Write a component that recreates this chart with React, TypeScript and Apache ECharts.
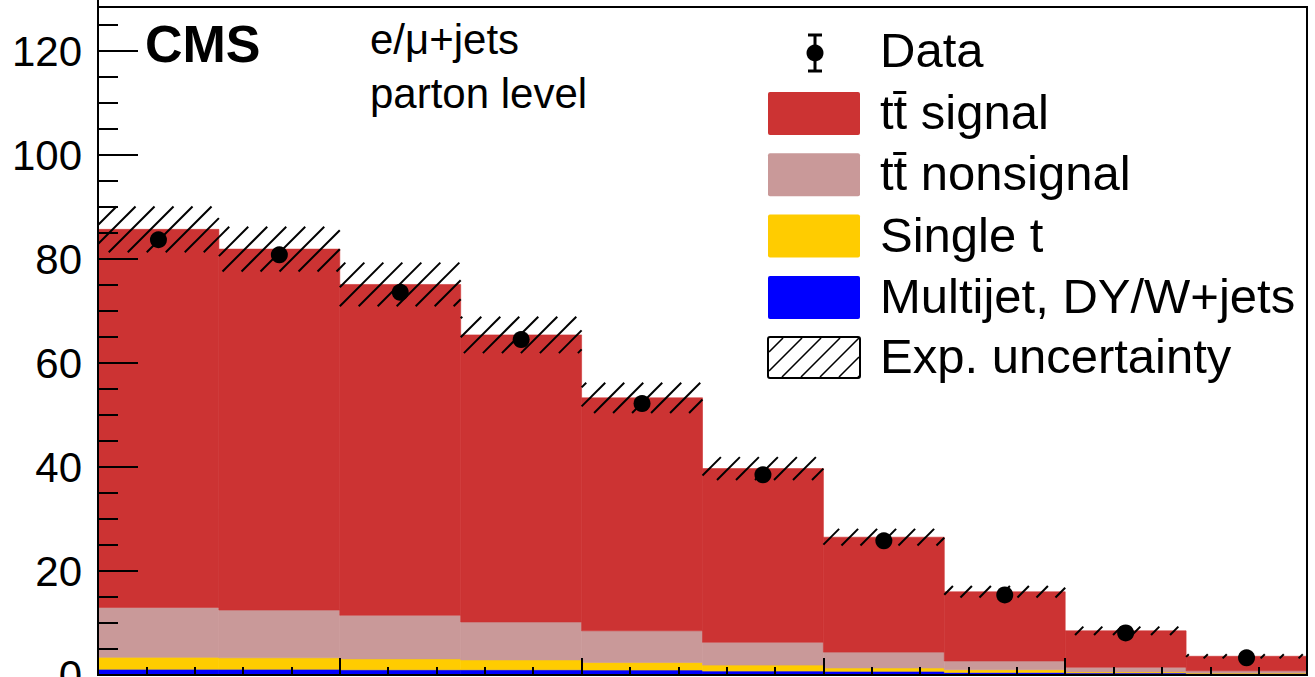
import React, { useEffect, useRef } from "react";
import * as echarts from "echarts";

// ---- data ----
const binEdges = [0, 1, 2, 3, 4, 5, 6, 7, 8, 9, 10];
const multijet = [1.1, 1.1, 1.0, 1.0, 0.95, 0.75, 0.7, 0.5, 0.4, 0.3];
const singleTop = [2.3, 2.2, 2.1, 1.9, 1.45, 1.15, 0.65, 0.5, 0.2, 0.1];
const ttNonsignal = [9.6, 9.2, 8.4, 7.3, 6.1, 4.4, 3.05, 1.7, 0.9, 0.4];
const ttSignal = [72.7, 69.4, 63.6, 55.2, 44.8, 33.4, 22.1, 13.3, 7.0, 2.8];
const expUnc = [4.4, 4.3, 4.2, 3.5, 2.9, 2.2, 1.6, 1.1, 0.8, 0.4];
const dataValues = [83.7, 80.8, 73.6, 64.5, 52.2, 38.5, 25.8, 15.4, 8.1, 3.3];
const yTickLabels = [0, 20, 40, 60, 80, 100, 120];

const FONT = '"Liberation Sans", Arial, Helvetica, sans-serif';

const layers = [
  { name: "Multijet, DY/W+jets", values: multijet, color: "#0000ff" },
  { name: "Single t", values: singleTop, color: "#ffcc00" },
  { name: "tt\u0304 nonsignal", values: ttNonsignal, color: "#c99999" },
  { name: "tt\u0304 signal", values: ttSignal, color: "#cc3333" },
];

function hatchLines(x0: number, x1: number, yTop: number, yBot: number, sp: number, lw: number) {
  const out: any[] = [];
  const cMin = x0 + yTop;
  const cMax = x1 + yBot;
  for (let c = Math.ceil(cMin / sp) * sp; c <= cMax; c += sp) {
    let xa = c - yBot, ya = yBot;
    if (xa < x0) { xa = x0; ya = c - x0; }
    let xb = c - yTop, yb = yTop;
    if (xb > x1) { xb = x1; yb = c - x1; }
    if (xb - xa < 0.5) continue;
    out.push({
      type: "line",
      shape: { x1: xa, y1: ya, x2: xb, y2: yb },
      style: { stroke: "#000", lineWidth: lw },
    });
  }
  return out;
}

export default function App() {
  const ref = useRef<HTMLDivElement>(null);

  useEffect(() => {
    document.body.style.margin = "0";
    const chart = echarts.init(ref.current!, null, { renderer: "svg" });

    const nBins = binEdges.length - 1;
    const base = new Array(nBins).fill(0);
    const stackSeries = layers.map((layer, li) => {
      const data = [] as number[][];
      for (let i = 0; i < nBins; i++) {
        const b = base[i];
        const t = b + layer.values[i];
        data.push([binEdges[i], binEdges[i + 1], b, t]);
        base[i] = t;
      }
      return {
        type: "custom",
        name: layer.name,
        z: 2 + li * 0.01,
        encode: { x: [0, 1], y: [2, 3] },
        data,
        renderItem: (params: any, api: any) => {
          const p0 = api.coord([api.value(0), api.value(3)]);
          const p1 = api.coord([api.value(1), api.value(2)]);
          return {
            type: "rect",
            shape: { x: p0[0], y: p0[1], width: p1[0] - p0[0], height: p1[1] - p0[1] },
            style: { fill: layer.color, stroke: layer.color, lineWidth: 0.6 },
          };
        },
      };
    });

    const totals = base.slice();
    const uncData = totals.map((t, i) => [binEdges[i], binEdges[i + 1], t, expUnc[i]]);
    const pointData = dataValues.map((v, i) => [(binEdges[i] + binEdges[i + 1]) / 2, v]);

    const option: any = {
      animation: false,
      grid: {
        left: 98, right: 8, top: -53, bottom: 2,
        containLabel: false,
        outerBoundsMode: "none",
      },
      xAxis: {
        type: "value",
        min: 0,
        max: 10,
        interval: 2,
        z: 10,
        axisLine: { show: true, lineStyle: { color: "#000", width: 2 } },
        axisTick: { show: true, inside: true, length: 17, lineStyle: { color: "#000", width: 2 } },
        minorTick: { show: true, splitNumber: 5, length: 8, lineStyle: { color: "#000", width: 2 } },
        axisLabel: { show: false },
        splitLine: { show: false },
      },
      yAxis: {
        type: "value",
        min: 0,
        max: 140,
        interval: 20,
        z: 10,
        axisLine: { show: true, lineStyle: { color: "#000", width: 2 } },
        axisTick: { show: true, inside: true, length: 40, lineStyle: { color: "#000", width: 2 } },
        minorTick: { show: true, splitNumber: 4, length: 20, lineStyle: { color: "#000", width: 2 } },
        axisLabel: {
          color: "#000",
          fontSize: 42,
          fontFamily: FONT,
          margin: 16,
          formatter: (v: number) => (yTickLabels.indexOf(v) >= 0 ? String(v) : ""),
        },
        splitLine: { show: false },
      },
      series: [
        ...stackSeries,
        {
          type: "custom",
          name: "Exp. uncertainty",
          z: 3,
          encode: { x: [0, 1], y: 2 },
          data: uncData,
          renderItem: (params: any, api: any) => {
            const x0 = api.coord([api.value(0), 0])[0];
            const x1 = api.coord([api.value(1), 0])[0];
            const yTop = api.coord([0, api.value(2) + api.value(3)])[1];
            const yBot = api.coord([0, api.value(2) - api.value(3)])[1];
            return { type: "group", children: hatchLines(x0, x1, yTop, yBot, 19, 2) };
          },
        },
        {
          type: "scatter",
          name: "Data",
          z: 4,
          symbol: "circle",
          symbolSize: 17,
          itemStyle: { color: "#000", opacity: 1 },
          data: pointData,
        },
      ],
      graphic: [
        {
          type: "rect",
          z: 100,
          shape: { x: 98, y: 7, width: 1209, height: 668 },
          style: { fill: "none", stroke: "#000", lineWidth: 2 },
        },
        {
          type: "text", z: 100, x: 145, y: 44,
          style: { text: "CMS", font: `bold 52px ${FONT}`, fill: "#000", verticalAlign: "middle", align: "left" },
        },
        {
          type: "text", z: 100, x: 370, y: 39,
          style: { text: "e/\u03bc+jets", font: `42px ${FONT}`, fill: "#000", verticalAlign: "middle", align: "left" },
        },
        {
          type: "text", z: 100, x: 370, y: 93,
          style: { text: "parton level", font: `42px ${FONT}`, fill: "#000", verticalAlign: "middle", align: "left" },
        },
        // legend: data marker
        { type: "line", z: 100, shape: { x1: 815, y1: 35, x2: 815, y2: 71 }, style: { stroke: "#000", lineWidth: 3 } },
        { type: "line", z: 100, shape: { x1: 808, y1: 35, x2: 822, y2: 35 }, style: { stroke: "#000", lineWidth: 3 } },
        { type: "line", z: 100, shape: { x1: 808, y1: 71, x2: 822, y2: 71 }, style: { stroke: "#000", lineWidth: 3 } },
        { type: "circle", z: 100, shape: { cx: 815, cy: 53, r: 8.5 }, style: { fill: "#000" } },
        {
          type: "text", z: 100, x: 880, y: 50,
          style: { text: "Data", font: `49px ${FONT}`, fill: "#000", verticalAlign: "middle", align: "left" },
        },
        ...[3, 2, 1, 0].flatMap((li, k) => {
          const top = 92 + k * 61.3;
          return [
            {
              type: "rect", z: 100,
              shape: { x: 768, y: top, width: 92, height: 43, r: 2 },
              style: { fill: layers[li].color },
            },
            {
              type: "text", z: 100, x: 880, y: top + 20,
              style: { text: layers[li].name, font: `49px ${FONT}`, fill: "#000", verticalAlign: "middle", align: "left" },
            },
          ];
        }),
        {
          type: "rect", z: 100,
          shape: { x: 768, y: 337, width: 92, height: 41, r: 2 },
          style: { fill: "#fff", stroke: "#000", lineWidth: 2 },
        },
        ...hatchLines(769, 859, 338, 377, 19, 1.6).map((l) => ({ ...l, z: 100 })),
        {
          type: "text", z: 100, x: 880, y: 356,
          style: { text: "Exp. uncertainty", font: `49px ${FONT}`, fill: "#000", verticalAlign: "middle", align: "left" },
        },
      ],
    };

    chart.setOption(option);
    return () => chart.dispose();
  }, []);

  return <div ref={ref} style={{ width: 1315, height: 677, overflow: "hidden" }} />;
}
